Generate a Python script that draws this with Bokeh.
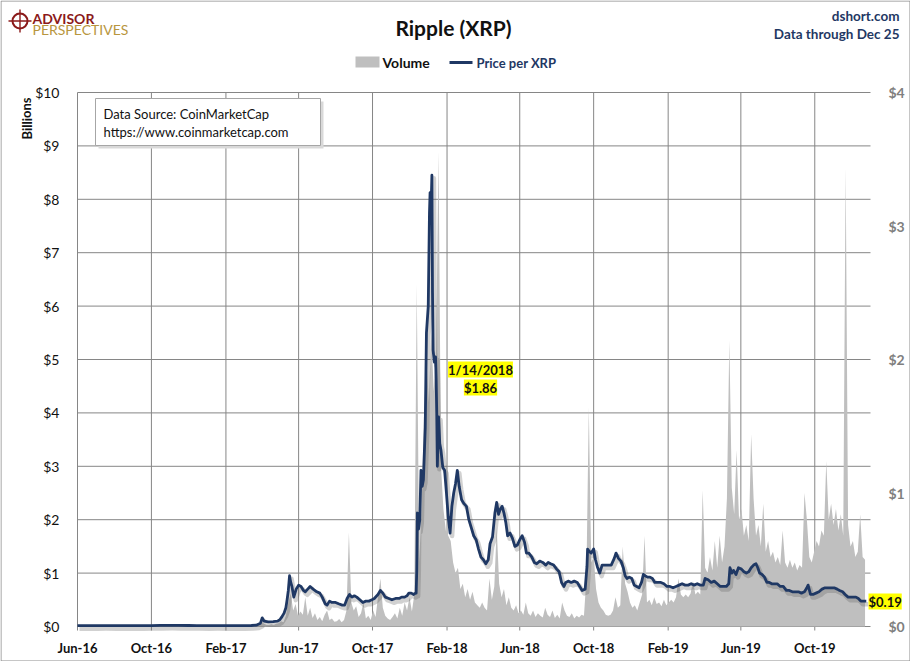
import pandas as pd
from bokeh.plotting import figure
from bokeh.models import (Range1d, LinearAxis, FixedTicker, SingleIntervalTicker,
                          DatetimeTickFormatter, PrintfTickFormatter, Label,
                          BoxAnnotation, ColumnDataSource)
from bokeh.transform import dodge
from bokeh.embed import file_html
from bokeh.resources import INLINE

# ---------------- data ----------------
tick_dates = ["2016-06-01", "2016-10-01", "2017-02-01", "2017-06-01", "2017-10-01",
              "2018-02-01", "2018-06-01", "2018-10-01", "2019-02-01", "2019-06-01",
              "2019-10-01"]
x_first = "2016-06-01"
x_last = "2020-01-01"
volume_ticks = list(range(0, 11))     # $0 .. $10 billions
price_ticks_max = 4                   # $0 .. $4

# daily-volume samples (billions of USD), one every 4 days from 2016-06-01
volume_start = "2016-06-01"
volume_bn = [
    0.004, 0.003, 0.005, 0.004, 0.006, 0.004, 0.003, 0.004,
    0.003, 0.004, 0.003, 0.005, 0.004, 0.003, 0.004, 0.003,
    0.004, 0.005, 0.004, 0.003, 0.004, 0.006, 0.005, 0.004,
    0.005, 0.004, 0.003, 0.004, 0.005, 0.006, 0.004, 0.005,
    0.006, 0.005, 0.004, 0.005, 0.004, 0.003, 0.004, 0.005,
    0.004, 0.003, 0.004, 0.003, 0.004, 0.005, 0.004, 0.003,
    0.003, 0.004, 0.003, 0.004, 0.003, 0.004, 0.003, 0.003,
    0.004, 0.003, 0.004, 0.005, 0.004, 0.005, 0.006, 0.005,
    0.006, 0.008, 0.007, 0.010, 0.012, 0.015, 0.020, 0.025,
    0.030, 0.040, 0.050, 0.060,
    # Apr 2017 ->
    0.09, 0.05, 0.03, 0.03, 0.04, 0.03, 0.05, 0.06,
    0.10, 0.08, 0.20, 0.45, 0.62, 0.30, 0.42, 0.20,
    0.28, 0.22, 0.55, 0.20, 0.35, 0.16, 0.25, 0.12,
    0.18, 0.10, 0.22, 0.30, 0.12, 0.15, 0.09, 0.10,
    0.14, 0.08, 0.12, 0.30, 1.76, 0.45, 0.30, 0.38,
    0.18, 0.25, 0.45, 0.15, 0.20, 0.12, 0.30, 0.18,
    0.55, 0.90, 0.35, 0.20, 0.15, 0.12, 0.18, 0.25,
    0.15, 0.35, 0.20, 0.45, 0.30, 0.55, 0.28, 0.60,
    # Dec 13 2017 ->
    6.40, 1.20, 2.20, 4.00, 5.00, 4.20, 5.50, 4.40,
    5.20, 8.90, 3.00, 2.20, 1.80, 1.70, 1.60, 1.20,
    1.00, 1.10, 0.70, 0.80, 0.55, 0.70, 0.50, 0.65,
    0.45, 0.40, 0.35, 0.45, 0.35, 0.30, 0.90, 0.50,
    0.75, 1.85, 0.80, 0.55, 0.70, 0.40, 0.55, 0.35,
    0.30, 0.40, 0.25, 0.30, 0.22, 0.45, 0.25, 0.20,
    0.30, 0.18, 0.25, 0.20, 0.17, 0.35, 0.22, 0.18,
    0.30, 0.16, 0.22, 0.15, 0.45, 0.30, 0.20, 0.18,
    0.25, 0.15, 0.20, 0.17, 0.22, 0.20, 0.90, 4.10,
    1.20, 1.30, 0.70, 0.45, 0.35, 0.30, 0.22, 0.20,
    0.22, 0.30, 0.55, 0.35, 0.40, 1.50, 0.80, 0.65,
    0.45, 0.35, 0.40, 0.30, 0.45, 0.60, 1.70, 0.45,
    0.50, 0.40, 0.55, 0.42, 0.45, 0.38, 0.50, 0.40,
    0.45, 0.50, 0.45, 0.55, 0.90, 0.60, 0.55, 0.60,
    0.55, 0.62, 0.85, 0.60, 0.65, 0.60,
    # Apr 2019 ->
    2.55, 1.10, 1.00, 1.30, 1.05, 1.60, 1.10, 1.70,
    1.20, 1.50, 2.40, 5.36, 2.60, 2.10, 3.30, 2.00,
    2.20, 1.70, 1.90, 1.60, 3.60, 2.40, 1.70, 1.90,
    1.50, 2.30, 1.40, 1.60, 1.30, 1.40, 1.20, 1.30,
    1.15, 1.80, 1.20, 1.10, 1.25, 1.10, 1.20, 1.05,
    1.15, 1.10, 2.50, 2.00, 1.30, 1.20, 1.40, 1.60,
    1.50, 1.80, 1.70, 3.10, 2.00, 2.30, 1.90, 2.20,
    1.80, 2.10, 1.70, 8.60, 1.90, 1.50, 1.60, 1.30,
    1.40, 2.10, 1.30, 1.25,
]

price_dates = [
    "2016-06-01", "2016-06-15", "2016-06-22", "2016-07-01", "2016-07-15", "2016-08-01",
    "2016-08-15", "2016-09-01", "2016-09-15", "2016-10-01", "2016-10-15", "2016-11-01",
    "2016-11-15", "2016-12-01", "2016-12-15", "2017-01-01", "2017-01-15", "2017-02-01",
    "2017-02-15", "2017-03-01", "2017-03-15", "2017-03-24", "2017-03-30", "2017-04-02",
    "2017-04-05", "2017-04-12", "2017-04-20", "2017-04-27", "2017-05-01", "2017-05-04",
    "2017-05-08", "2017-05-11", "2017-05-13", "2017-05-15", "2017-05-17", "2017-05-19",
    "2017-05-21", "2017-05-24", "2017-05-28", "2017-06-01", "2017-06-05", "2017-06-09",
    "2017-06-12", "2017-06-16", "2017-06-20", "2017-06-25", "2017-07-01", "2017-07-06",
    "2017-07-10", "2017-07-15", "2017-07-18", "2017-07-22", "2017-07-26", "2017-08-01",
    "2017-08-06", "2017-08-12", "2017-08-16", "2017-08-20", "2017-08-24", "2017-08-28",
    "2017-09-01", "2017-09-05", "2017-09-10", "2017-09-15", "2017-09-20", "2017-09-25",
    "2017-09-30", "2017-10-04", "2017-10-10", "2017-10-14", "2017-10-18", "2017-10-22",
    "2017-10-28", "2017-11-02", "2017-11-08", "2017-11-14", "2017-11-18", "2017-11-23",
    "2017-11-27", "2017-11-30", "2017-12-04", "2017-12-08", "2017-12-11", "2017-12-12",
    "2017-12-13", "2017-12-14", "2017-12-16", "2017-12-18", "2017-12-20", "2017-12-22",
    "2017-12-24", "2017-12-27", "2017-12-29", "2018-01-01", "2018-01-03", "2018-01-04",
    "2018-01-05", "2018-01-07", "2018-01-08", "2018-01-09", "2018-01-11", "2018-01-13",
    "2018-01-14", "2018-01-15", "2018-01-16", "2018-01-18", "2018-01-20", "2018-01-22",
    "2018-01-25", "2018-01-28", "2018-01-31", "2018-02-03", "2018-02-06", "2018-02-09",
    "2018-02-12", "2018-02-15", "2018-02-18", "2018-02-21", "2018-02-25", "2018-03-01",
    "2018-03-05", "2018-03-09", "2018-03-13", "2018-03-17", "2018-03-21", "2018-03-25",
    "2018-03-29", "2018-04-02", "2018-04-06", "2018-04-10", "2018-04-13", "2018-04-17",
    "2018-04-21", "2018-04-24", "2018-04-27", "2018-04-30", "2018-05-03", "2018-05-06",
    "2018-05-09", "2018-05-12", "2018-05-16", "2018-05-20", "2018-05-24", "2018-05-28",
    "2018-06-01", "2018-06-05", "2018-06-09", "2018-06-12", "2018-06-16", "2018-06-21",
    "2018-06-25", "2018-06-29", "2018-07-04", "2018-07-09", "2018-07-14", "2018-07-18",
    "2018-07-22", "2018-07-27", "2018-08-01", "2018-08-05", "2018-08-09", "2018-08-13",
    "2018-08-16", "2018-08-20", "2018-08-25", "2018-08-30", "2018-09-04", "2018-09-08",
    "2018-09-12", "2018-09-17", "2018-09-20", "2018-09-21", "2018-09-24", "2018-09-27",
    "2018-10-01", "2018-10-04", "2018-10-07", "2018-10-11", "2018-10-15", "2018-10-20",
    "2018-10-25", "2018-10-30", "2018-11-04", "2018-11-07", "2018-11-11", "2018-11-15",
    "2018-11-19", "2018-11-22", "2018-11-25", "2018-11-29", "2018-12-03", "2018-12-07",
    "2018-12-11", "2018-12-15", "2018-12-19", "2018-12-22", "2018-12-25", "2018-12-29",
    "2019-01-02", "2019-01-06", "2019-01-10", "2019-01-14", "2019-01-20", "2019-01-25",
    "2019-01-30", "2019-02-04", "2019-02-09", "2019-02-14", "2019-02-19", "2019-02-24",
    "2019-03-01", "2019-03-06", "2019-03-11", "2019-03-16", "2019-03-21", "2019-03-26",
    "2019-03-31", "2019-04-03", "2019-04-08", "2019-04-13", "2019-04-18", "2019-04-23",
    "2019-04-28", "2019-05-03", "2019-05-08", "2019-05-12", "2019-05-14", "2019-05-17",
    "2019-05-20", "2019-05-24", "2019-05-28", "2019-06-02", "2019-06-06", "2019-06-10",
    "2019-06-14", "2019-06-18", "2019-06-22", "2019-06-26", "2019-06-29", "2019-07-02",
    "2019-07-06", "2019-07-10", "2019-07-14", "2019-07-18", "2019-07-22", "2019-07-26",
    "2019-07-31", "2019-08-05", "2019-08-10", "2019-08-15", "2019-08-20", "2019-08-25",
    "2019-08-30", "2019-09-04", "2019-09-09", "2019-09-14", "2019-09-18", "2019-09-20",
    "2019-09-24", "2019-09-28", "2019-10-03", "2019-10-08", "2019-10-13", "2019-10-18",
    "2019-10-23", "2019-10-28", "2019-11-02", "2019-11-07", "2019-11-11", "2019-11-16",
    "2019-11-20", "2019-11-25", "2019-11-29", "2019-12-03", "2019-12-08", "2019-12-12",
    "2019-12-16", "2019-12-20", "2019-12-25",
]
price_usd = [
    0.0060, 0.0062, 0.0068, 0.0064, 0.0066, 0.0063,
    0.0062, 0.0060, 0.0062, 0.0070, 0.0080, 0.0085,
    0.0080, 0.0075, 0.0066, 0.0065, 0.0068, 0.0063,
    0.0061, 0.0062, 0.0075, 0.0110, 0.0250, 0.0650,
    0.0400, 0.0350, 0.0360, 0.0400, 0.0500, 0.0700,
    0.10, 0.14, 0.20, 0.27, 0.38, 0.33,
    0.30, 0.22, 0.28, 0.31, 0.30, 0.27,
    0.26, 0.28, 0.30, 0.28, 0.26, 0.25,
    0.22, 0.17, 0.16, 0.19, 0.18, 0.18,
    0.17, 0.16, 0.16, 0.21, 0.24, 0.22,
    0.23, 0.22, 0.20, 0.18, 0.19, 0.19,
    0.20, 0.21, 0.24, 0.27, 0.25, 0.22,
    0.21, 0.20, 0.21, 0.21, 0.22, 0.22,
    0.23, 0.25, 0.25, 0.24, 0.25, 0.25,
    0.42, 0.85, 0.73, 0.80, 1.17, 1.05,
    1.10, 1.49, 2.20, 2.40, 3.10, 3.25,
    3.02, 3.38, 2.50, 2.07, 1.98, 2.02,
    1.86, 1.60, 1.20, 1.57, 1.37, 1.32,
    1.19, 1.17, 1.00, 0.82, 0.70, 0.90,
    1.00, 1.07, 1.17, 1.05, 0.95, 0.92,
    0.90, 0.80, 0.74, 0.68, 0.65, 0.58,
    0.52, 0.50, 0.47, 0.50, 0.62, 0.67,
    0.85, 0.93, 0.84, 0.88, 0.90, 0.85,
    0.78, 0.68, 0.70, 0.66, 0.60, 0.61,
    0.65, 0.68, 0.63, 0.55, 0.55, 0.52,
    0.48, 0.47, 0.49, 0.48, 0.46, 0.48,
    0.47, 0.46, 0.43, 0.41, 0.33, 0.30,
    0.33, 0.34, 0.33, 0.34, 0.33, 0.30,
    0.27, 0.28, 0.45, 0.58, 0.56, 0.55,
    0.58, 0.50, 0.45, 0.40, 0.46, 0.46,
    0.46, 0.46, 0.51, 0.55, 0.51, 0.49,
    0.44, 0.38, 0.36, 0.37, 0.36, 0.31,
    0.30, 0.29, 0.33, 0.39, 0.38, 0.37,
    0.37, 0.36, 0.33, 0.33, 0.33, 0.32,
    0.30, 0.30, 0.29, 0.30, 0.31, 0.32,
    0.31, 0.31, 0.32, 0.31, 0.32, 0.31,
    0.31, 0.36, 0.35, 0.33, 0.34, 0.32,
    0.30, 0.30, 0.30, 0.32, 0.44, 0.40,
    0.42, 0.39, 0.44, 0.43, 0.41, 0.40,
    0.41, 0.44, 0.46, 0.47, 0.44, 0.40,
    0.39, 0.37, 0.33, 0.33, 0.32, 0.32,
    0.32, 0.30, 0.30, 0.27, 0.27, 0.26,
    0.26, 0.26, 0.25, 0.26, 0.29, 0.31,
    0.24, 0.24, 0.25, 0.26, 0.28, 0.29,
    0.29, 0.29, 0.29, 0.28, 0.27, 0.26,
    0.24, 0.22, 0.22, 0.22, 0.22, 0.21,
    0.19, 0.19, 0.19,
]

# ---------------- layout / style ----------------
W, H = 910, 661
PL, PR, PT, PB = 77, 870, 92, 626          # plot area in canvas pixels
FONT = "Lato"
NAVY = "#1F3864"
GRID = "#868686"
VOL_COLOR = "#BFBFBF"

t0 = pd.Timestamp(x_first).value / 1e6
t1 = pd.Timestamp(x_last).value / 1e6
ms_per_px = (t1 - t0) / (PR - PL)
vmax = volume_ticks[-1]
u_per_px = vmax / (PB - PT)
ratio = price_ticks_max / vmax

x_range = Range1d(t0 - PL * ms_per_px, t1 + (W - PR) * ms_per_px)
y_lo, y_hi = -(H - PB) * u_per_px, vmax + PT * u_per_px
y_range = Range1d(y_lo, y_hi)

p = figure(width=W, height=H, x_axis_type="datetime", x_range=x_range, y_range=y_range,
           output_backend="svg", toolbar_location=None, min_border=0)
p.title.visible = False
p.outline_line_color = None
p.background_fill_color = "white"
p.border_fill_color = "white"
p.extra_y_ranges = {"price": Range1d(y_lo * ratio, y_hi * ratio)}
p.xgrid.visible = False
p.ygrid.visible = False

tick_ms = [pd.Timestamp(d).value / 1e6 for d in tick_dates]
tick_px = 4 * u_per_px

# grid (drawn as segments limited to the plot area)
p.segment(x0=tick_ms, x1=tick_ms, y0=[-tick_px] * len(tick_ms), y1=[vmax] * len(tick_ms),
          line_color=GRID, line_width=1)
p.segment(x0=[t0] * len(volume_ticks), x1=[t1] * len(volume_ticks),
          y0=volume_ticks, y1=volume_ticks, line_color=GRID, line_width=1)

vol_src = ColumnDataSource(dict(
    date=pd.date_range(volume_start, periods=len(volume_bn), freq="4D"),
    vol=volume_bn))
price_src = ColumnDataSource(dict(date=pd.to_datetime(price_dates), price=price_usd))

p.varea(x="date", y1=0, y2="vol", source=vol_src, fill_color=VOL_COLOR)

# soft drop shadow of the price line (offset a few pixels right/down)
p.line(x=dodge("date", 2 * ms_per_px), y=dodge("price", -3 * u_per_px * ratio),
       source=price_src, y_range_name="price",
       line_color="#595959", line_alpha=0.28, line_width=4.5, line_join="round")
p.line(x="date", y="price", source=price_src, y_range_name="price",
       line_color=NAVY, line_width=2.8, line_join="round")

# x axis
xax = p.xaxis[0]
xax.fixed_location = 0
xax.bounds = (t0, t1)
xax.ticker = FixedTicker(ticks=tick_ms)
xax.formatter = DatetimeTickFormatter(months="%b-%y", days="%b-%y", years="%b-%y",
                                      hours="%b-%y", minutes="%b-%y")
xax.axis_line_color = None
xax.major_tick_line_color = None
xax.minor_tick_line_color = None
xax.major_label_standoff = 7
xax.major_label_text_font = FONT
xax.major_label_text_font_size = "13px"
xax.major_label_text_font_style = "bold"
xax.major_label_text_color = "#111111"

# left axis
yax = p.yaxis[0]
yax.fixed_location = t0
yax.bounds = (0, vmax)
yax.ticker = FixedTicker(ticks=volume_ticks)
yax.formatter = PrintfTickFormatter(format="$%d")
yax.axis_line_color = None
yax.major_tick_line_color = None
yax.minor_tick_line_color = None
yax.major_label_standoff = 12
yax.major_label_text_font = FONT
yax.major_label_text_font_size = "14px"
yax.major_label_text_color = "#111111"

# right axis (price)
rax = LinearAxis(y_range_name="price", ticker=SingleIntervalTicker(interval=1),
                 formatter=PrintfTickFormatter(format="$%d"),
                 fixed_location=t1, bounds=(0, price_ticks_max))
rax.axis_line_color = None
rax.major_tick_line_color = None
rax.minor_tick_line_color = None
rax.major_label_standoff = 12
rax.major_label_text_font = FONT
rax.major_label_text_font_size = "14px"
rax.major_label_text_font_style = "bold"
rax.major_label_text_color = "#7F7F7F"
p.add_layout(rax, "right")


# ---------------- annotations (screen px, canvas coordinates) ----------------
def label(x, y, text, size="13px", style="normal", color="#111111", align="left",
          baseline="middle", angle=0, bg=None):
    lab = Label(x=x, y=H - y, x_units="screen", y_units="screen", text=text,
                text_font=FONT, text_font_size=size, text_font_style=style,
                text_color=color, text_align=align, text_baseline=baseline, angle=angle)
    if bg is not None:
        lab.background_fill_color = bg
    p.add_layout(lab)
    return lab


def box(left, right, top, bottom, fill=None, line=None, width=1, radius=0):
    b = BoxAnnotation(left=left, right=right, top=H - top, bottom=H - bottom,
                      left_units="screen", right_units="screen",
                      top_units="screen", bottom_units="screen",
                      fill_color=fill if fill else "white",
                      fill_alpha=1.0 if fill else 0.0,
                      line_color=line if line else "white", line_width=width,
                      line_alpha=1.0 if line else 0.0,
                      border_radius=radius)
    p.add_layout(b)
    return b


# outer frame of the picture
box(0.5, W - 0.5, 0.5, H - 0.5, fill=None, line="#8C8C8C")

# logo
box(12, 27, 13, 28, fill=None, line="#8B1A1A", width=2, radius=8)
box(18.8, 20.2, 9, 32, fill="#8B1A1A")
box(8, 31, 19.8, 21.2, fill="#8B1A1A")
label(32, 18, "ADVISOR", size="14px", style="bold", color="#8B1A1A")
label(32, 29, "PERSPECTIVES", size="14px", color="#B8963E")

# title and source
label(453, 27, "Ripple (XRP)", size="21px", style="bold", align="center")
label(899, 15, "dshort.com", size="13.5px", style="bold", color=NAVY, align="right")
label(899, 33, "Data through Dec 25", size="13.5px", style="bold", color=NAVY, align="right")

# legend
box(355, 379, 56, 67, fill=VOL_COLOR)
label(382, 62, "Volume", size="14px", style="bold")
box(449, 472, 60.5, 63.5, fill=NAVY)
label(476, 62, "Price per XRP", size="13px", style="bold", color=NAVY)

# axis caption
label(26, 118, "Billions", size="13px", style="bold", align="center", angle=1.5708)

# data source box
box(98, 323, 101, 148, fill="#D9D9D9")
box(95, 320, 98, 145, fill="white", line="#A6A6A6")
label(103, 113, "Data Source: CoinMarketCap", size="13px")
label(103, 131, "https://www.coinmarketcap.com", size="13px")

# callouts
label(480, 369, "1/14/2018", size="13px", style="bold", align="center", bg="#FFFF00")
label(480, 387, "$1.86", size="13px", style="bold", align="center", bg="#FFFF00")
label(868, 601, "$0.19", size="13px", style="bold", bg="#FFFF00")

open("out.html", "w").write(file_html(p, INLINE))
